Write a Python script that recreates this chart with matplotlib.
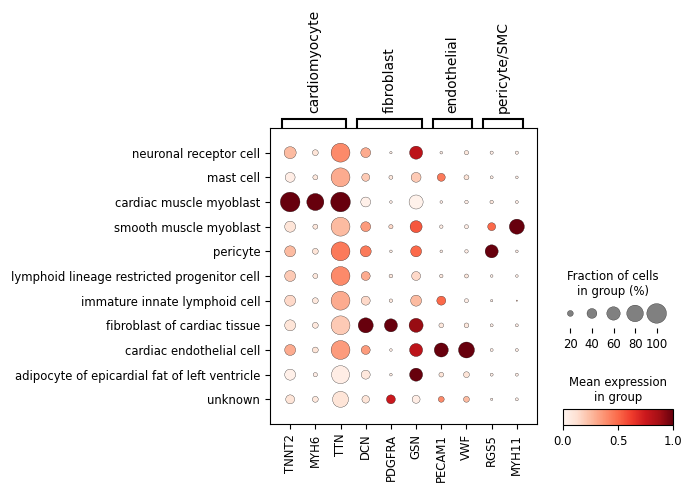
import numpy as np
import matplotlib
matplotlib.use('Agg')
import matplotlib.pyplot as plt
from matplotlib.cm import ScalarMappable
from matplotlib.colors import Normalize

W, H = 691, 491

genes = ['TNNT2', 'MYH6', 'TTN', 'DCN', 'PDGFRA', 'GSN', 'PECAM1', 'VWF', 'RGS5', 'MYH11']
cell_types = ['neuronal receptor cell', 'mast cell', 'cardiac muscle myoblast',
              'smooth muscle myoblast', 'pericyte',
              'lymphoid lineage restricted progenitor cell',
              'immature innate lymphoid cell', 'fibroblast of cardiac tissue',
              'cardiac endothelial cell',
              'adipocyte of epicardial fat of left ventricle', 'unknown']
group_names = ['cardiomyocyte', 'fibroblast', 'endothelial', 'pericyte/SMC']
group_spans = [(0, 2), (3, 5), (6, 7), (8, 9)]

# fraction of cells expressing (0-1), rows = cell types, cols = genes
frac = np.array([
    [0.52, 0.20, 0.95, 0.40, 0.06, 0.58, 0.07, 0.13, 0.09, 0.09],
    [0.40, 0.16, 0.95, 0.30, 0.12, 0.40, 0.30, 0.16, 0.08, 0.07],
    [1.00, 0.83, 1.00, 0.40, 0.07, 0.64, 0.07, 0.10, 0.10, 0.08],
    [0.46, 0.16, 0.95, 0.40, 0.13, 0.52, 0.10, 0.12, 0.30, 0.70],
    [0.46, 0.20, 0.95, 0.46, 0.07, 0.46, 0.07, 0.10, 0.58, 0.07],
    [0.46, 0.16, 0.95, 0.35, 0.11, 0.35, 0.10, 0.12, 0.07, 0.07],
    [0.46, 0.20, 0.95, 0.35, 0.10, 0.46, 0.35, 0.12, 0.06, 0.025],
    [0.46, 0.20, 0.95, 0.70, 0.58, 0.64, 0.15, 0.15, 0.08, 0.08],
    [0.46, 0.20, 0.95, 0.35, 0.07, 0.58, 0.64, 0.76, 0.08, 0.08],
    [0.46, 0.13, 0.89, 0.35, 0.07, 0.58, 0.15, 0.20, 0.08, 0.08],
    [0.35, 0.20, 0.76, 0.28, 0.35, 0.30, 0.20, 0.20, 0.06, 0.08],
])

# mean expression (scaled 0-1)
expr = np.array([
    [0.25, 0.10, 0.40, 0.30, 0.05, 0.80, 0.05, 0.08, 0.05, 0.05],
    [0.05, 0.08, 0.30, 0.20, 0.08, 0.20, 0.45, 0.10, 0.05, 0.05],
    [1.00, 1.00, 1.00, 0.03, 0.05, 0.02, 0.05, 0.05, 0.08, 0.05],
    [0.10, 0.08, 0.25, 0.35, 0.15, 0.55, 0.05, 0.05, 0.50, 1.00],
    [0.25, 0.10, 0.45, 0.45, 0.05, 0.50, 0.05, 0.05, 1.00, 0.05],
    [0.20, 0.08, 0.40, 0.30, 0.08, 0.15, 0.08, 0.08, 0.05, 0.05],
    [0.15, 0.08, 0.30, 0.15, 0.08, 0.25, 0.50, 0.05, 0.05, 0.25],
    [0.10, 0.08, 0.20, 1.00, 1.00, 0.90, 0.08, 0.08, 0.05, 0.05],
    [0.30, 0.10, 0.35, 0.35, 0.05, 0.80, 1.00, 1.00, 0.05, 0.05],
    [0.03, 0.05, 0.05, 0.08, 0.05, 1.00, 0.10, 0.10, 0.05, 0.05],
    [0.10, 0.08, 0.10, 0.10, 0.75, 0.05, 0.40, 0.25, 0.05, 0.05],
])

legend_fracs = [0.2, 0.4, 0.6, 0.8, 1.0]
legend_labels = ['20', '40', '60', '80', '100']

def dot_size(f):
    return (np.asarray(f) ** 1.5) * 200

def px_axes(x0, y0, x1, y1):
    # pixel box (top-left origin) -> figure axes
    return fig.add_axes([x0 / W, 1 - y1 / H, (x1 - x0) / W, (y1 - y0) / H])

fig = plt.figure(figsize=(W / 100, H / 100), dpi=100)

# main dot plot
ax = px_axes(270, 128, 537, 424)
xx, yy = np.meshgrid(np.arange(len(genes)) + 0.5, np.arange(len(cell_types)) + 0.5)
ax.scatter(xx.ravel(), yy.ravel(), s=dot_size(frac.ravel()), c=expr.ravel(),
           cmap='Reds', vmin=0, vmax=1, edgecolor='black', linewidth=0.2, zorder=3)
ax.set_xlim(-0.3, len(genes) + 0.3)
ax.set_ylim(len(cell_types) + 0.5, -0.5)
ax.set_xticks(np.arange(len(genes)) + 0.5)
ax.set_xticklabels(genes, rotation=90, fontsize='small')
ax.set_yticks(np.arange(len(cell_types)) + 0.5)
ax.set_yticklabels(cell_types, fontsize='small')

# gene group brackets
tr = ax.get_xaxis_transform()
for name, (a, b) in zip(group_names, group_spans):
    l, r = a + 0.5 - 0.34, b + 0.5 + 0.23
    ax.plot([l, l, r, r], [1.004, 1.032, 1.032, 1.004], color='black', lw=1.5,
            transform=tr, clip_on=False, solid_joinstyle='miter')
    ax.text((l + r) / 2, 1.05, name, rotation=90, ha='center', va='bottom',
            fontsize=10, transform=tr)

# size legend
lax = px_axes(560, 300, 667, 328)
lax.scatter(np.arange(5), np.full(5, 0.52), s=dot_size(legend_fracs), color='gray',
            edgecolor='black', linewidth=0.2, zorder=3)
lax.set_xlim(-0.48, 4.48)
lax.set_ylim(0, 1)
lax.set_xticks(np.arange(5))
lax.set_xticklabels(legend_labels, fontsize='small')
lax.tick_params(axis='y', left=False, labelleft=False)
for sp in lax.spines.values():
    sp.set_visible(False)
fig.text(613 / W, 1 - 298 / H, 'Fraction of cells\nin group (%)', ha='center',
         va='bottom', fontsize='small', multialignment='center')

# colorbar
cax = px_axes(563, 409, 673, 425)
cb = fig.colorbar(ScalarMappable(norm=Normalize(0, 1), cmap='Reds'), cax=cax,
                  orientation='horizontal')
cb.set_ticks([0, 0.5, 1.0])
cb.ax.tick_params(labelsize='small')
fig.text(618 / W, 1 - 404 / H, 'Mean expression\nin group', ha='center',
         va='bottom', fontsize='small', multialignment='center')

fig.savefig('out.png', dpi=100)
